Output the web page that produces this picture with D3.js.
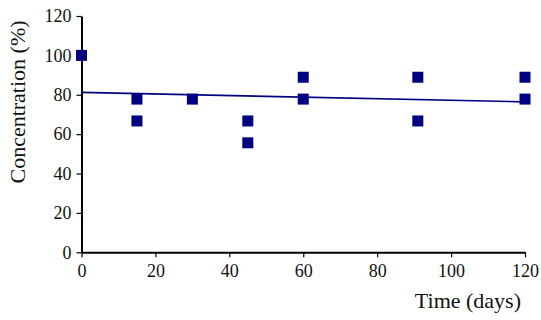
<!DOCTYPE html>
<html><head><meta charset="utf-8">
<script src="https://cdn.jsdelivr.net/npm/d3@7"></script>
<style>
body{margin:0;background:#fff}svg{display:block}
svg text{font-family:"Liberation Serif","Times New Roman",serif !important;}
</style>
</head><body>
<script>
const days = [0, 15, 15, 30, 45, 45, 60, 60, 91, 91, 120, 120];
const concentration = [100, 77.8, 66.7, 77.8, 66.7, 55.6, 88.9, 77.8, 88.9, 66.7, 88.9, 77.8];
const trendDays = [0, 120];
const trendValues = [81.2, 76.4];
const xTicks = [0, 20, 40, 60, 80, 100, 120];
const yTicks = [0, 20, 40, 60, 80, 100, 120];

const W = 541, H = 320;
const svg = d3.select("body").append("svg").attr("width", W).attr("height", H);
const x = d3.scaleLinear().domain([0, 120]).range([81.5, 525]);
const y = d3.scaleLinear().domain([0, 120]).range([252.3, 16]);

// axes
const xAxis = svg.append("g").attr("transform", `translate(0,${y(0)})`)
  .call(d3.axisBottom(x).tickValues(xTicks).tickSize(5).tickSizeOuter(0).tickPadding(7));
const yAxis = svg.append("g").attr("transform", `translate(${x(0)},0)`)
  .call(d3.axisLeft(y).tickValues(yTicks).tickSize(5).tickSizeOuter(0).tickPadding(5));
[xAxis, yAxis].forEach(g => {
  g.attr("font-size", 18);
  g.select(".domain").attr("stroke", "#000").attr("stroke-width", 2);
  g.selectAll(".tick line").attr("stroke", "#000").attr("stroke-width", 1.2);
  g.selectAll(".tick text").attr("fill", "#111");
});

// trend line
svg.append("line")
  .attr("x1", x(trendDays[0])).attr("y1", y(trendValues[0]))
  .attr("x2", x(trendDays[1])).attr("y2", y(trendValues[1]))
  .attr("stroke", "#000080").attr("stroke-width", 1.6);

// points
const s = 11;
svg.append("g").selectAll("rect").data(days).join("rect")
  .attr("x", (d) => x(d) - s / 2)
  .attr("y", (d, i) => y(concentration[i]) - s / 2)
  .attr("width", s).attr("height", s)
  .attr("fill", "#000080");

// titles
svg.append("text").attr("x", 521).attr("y", 307.5).attr("text-anchor", "end")
  .attr("font-size", 22).attr("fill", "#111")
  .text("Time (days)");
svg.append("text").attr("transform", "translate(25,102) rotate(-90)").attr("text-anchor", "middle")
  .attr("font-size", 22).attr("fill", "#111")
  .text("Concentration (%)");
</script>
</body></html>
